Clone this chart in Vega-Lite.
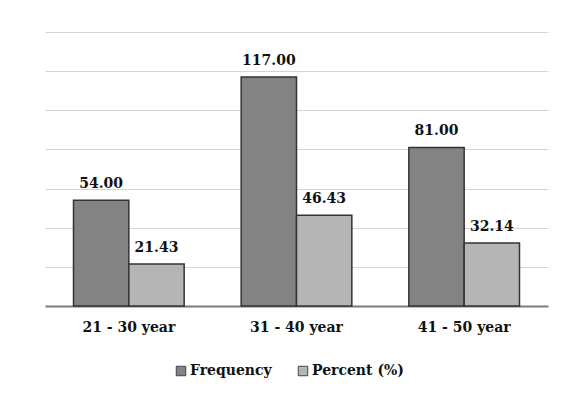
{
  "$schema": "https://vega.github.io/schema/vega-lite/v6.json",
  "width": 503,
  "height": 274,
  "autosize": {"type": "none"},
  "padding": {"left": 45, "top": 32, "right": 21, "bottom": 88},
  "background": "white",
  "config": {
    "view": {"stroke": null},
    "font": "DejaVu Serif"
  },
  "data": {
    "values": [
      {"age": "21 - 30 year", "series": "Frequency", "value": 54.00},
      {"age": "21 - 30 year", "series": "Percent (%)", "value": 21.43},
      {"age": "31 - 40 year", "series": "Frequency", "value": 117.00},
      {"age": "31 - 40 year", "series": "Percent (%)", "value": 46.43},
      {"age": "41 - 50 year", "series": "Frequency", "value": 81.00},
      {"age": "41 - 50 year", "series": "Percent (%)", "value": 32.14}
    ]
  },
  "encoding": {
    "x": {
      "field": "age",
      "type": "nominal",
      "scale": {"paddingInner": 0.34, "paddingOuter": 0.17},
      "axis": {
        "title": null,
        "labelAngle": 0,
        "labelFont": "DejaVu Serif",
        "labelFontWeight": "bold",
        "labelFontSize": 14,
        "labelColor": "#111111",
        "labelPadding": 14,
        "ticks": false,
        "domainColor": "#7a7a7a",
        "domainWidth": 2,
        "grid": false
      }
    },
    "xOffset": {"field": "series", "type": "nominal"},
    "y": {
      "field": "value",
      "type": "quantitative",
      "scale": {"domain": [0, 140], "nice": false},
      "axis": {
        "title": null,
        "labels": false,
        "ticks": false,
        "domain": false,
        "grid": true,
        "gridColor": "#d4d4d4",
        "gridWidth": 1,
        "values": [20, 40, 60, 80, 100, 120, 140]
      }
    }
  },
  "layer": [
    {
      "mark": {"type": "bar", "stroke": "#333333", "strokeWidth": 1.5},
      "encoding": {
        "color": {
          "field": "series",
          "type": "nominal",
          "scale": {"domain": ["Frequency", "Percent (%)"], "range": ["#838383", "#b5b5b5"]},
          "legend": {
            "title": null,
            "orient": "none",
            "direction": "horizontal",
            "legendX": 129,
            "legendY": 332,
            "symbolType": "square",
            "symbolSize": 90,
            "symbolFillColor": "#555555",
            "symbolStrokeColor": "#444444",
            "symbolStrokeWidth": 1,
            "labelFont": "DejaVu Serif",
            "labelFontWeight": "bold",
            "labelFontSize": 14,
            "labelColor": "#111111",
            "labelOffset": 2,
            "columnPadding": 24
          }
        }
      }
    },
    {
      "mark": {
        "type": "text",
        "baseline": "bottom",
        "dy": -9,
        "font": "DejaVu Serif",
        "fontWeight": "bold",
        "fontSize": 14,
        "color": "#111111"
      },
      "encoding": {
        "text": {"field": "value", "type": "quantitative", "format": ".2f"}
      }
    }
  ]
}
